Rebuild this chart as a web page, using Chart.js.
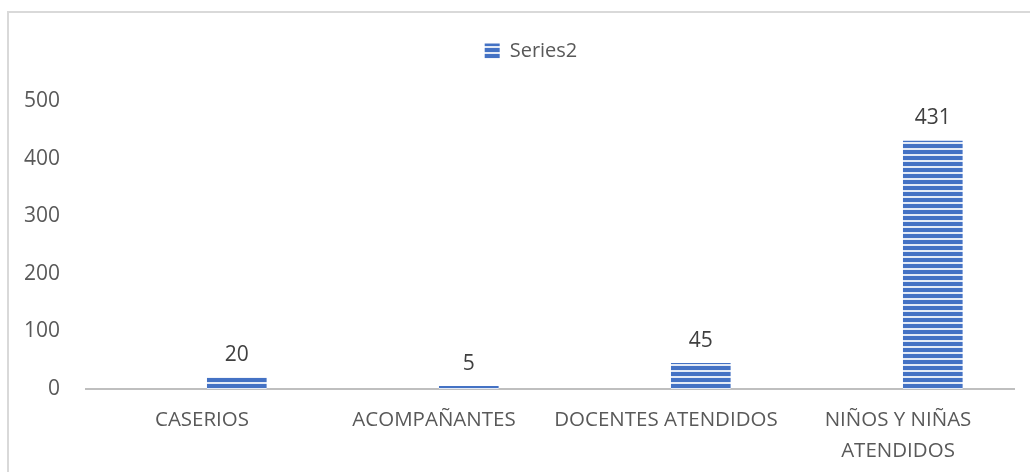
<!DOCTYPE html>
<html>
<head>
<meta charset="utf-8">
<script src="https://cdn.jsdelivr.net/npm/chart.js@4.4.1/dist/chart.umd.min.js"></script>
<style>
  html, body { margin: 0; padding: 0; background: #fff; overflow: hidden; }
  #wrap { position: relative; width: 1030px; height: 472px; }
  #frame { position: absolute; left: 7px; top: 11px; width: 1060px; height: 500px; border: 2px solid #d9d9d9; box-sizing: border-box; }
  canvas { position: absolute; left: 0; top: 0; }
</style>
</head>
<body>
<div id="wrap">
  <div id="frame"></div>
  <canvas id="chart" width="1030" height="472"></canvas>
</div>
<script>
const categories = ['CASERIOS', 'ACOMPAÑANTES', 'DOCENTES ATENDIDOS', ['NIÑOS Y NIÑAS', 'ATENDIDOS']];
const series1 = [null, null, null, null];
const series2 = [20, 5, 45, 431];
const yTicks = [0, 100, 200, 300, 400, 500];

// relleno rayado como en Excel
function stripes() {
    const c = document.createElement('canvas');
    c.width = 6; c.height = 6;
    const g = c.getContext('2d');
    g.fillStyle = '#4472C4';
    g.fillRect(0, 0, 6, 6);
    g.fillStyle = 'rgba(255,255,255,0.85)';
    g.fillRect(0, 4, 6, 2);
    return g.createPattern(c, 'repeat');
}

const valueLabels = {
    id: 'valueLabels',
    afterDatasetsDraw(chart) {
        const ctx = chart.ctx;
        const meta = chart.getDatasetMeta(1);
        ctx.save();
        ctx.font = '21px "Open Sans"';
        ctx.fillStyle = '#404040';
        ctx.textAlign = 'center';
        ctx.textBaseline = 'bottom';
        meta.data.forEach((bar, i) => {
            ctx.fillText(series2[i], bar.x, bar.y - 12);
        });
        ctx.restore();
    }
};

// leyenda: mas espacio debajo y un poco a la derecha
const legendSpace = {
    id: 'legendSpace',
    afterInit(chart) {
        const lg = chart.legend;
        const fit = lg.fit.bind(lg);
        const draw = lg.draw.bind(lg);
        lg.fit = function () { fit(); this.height = 66; };
        lg.draw = function () {
            chart.ctx.save();
            chart.ctx.translate(24, 0);
            draw();
            chart.ctx.restore();
        };
    }
};

const ctx = document.getElementById('chart');
new Chart(ctx, {
    type: 'bar',
    data: {
        labels: categories,
        datasets: [
            { label: 'Series1', data: series1, backgroundColor: '#ED7D31' },
            { label: 'Series2', data: series2, backgroundColor: stripes(), borderWidth: 0 }
        ]
    },
    options: {
        responsive: false,
        animation: false,
        categoryPercentage: 0.6,
        barPercentage: 0.857,
        layout: { padding: { top: 35, right: 16, bottom: 0, left: 0 } },
        plugins: {
            legend: {
                position: 'top',
                labels: {
                    filter: (item) => item.text === 'Series2',
                    boxWidth: 15,
                    boxHeight: 15,
                    padding: 6,
                    color: '#595959',
                    font: { family: 'Open Sans', size: 20 }
                }
            },
            tooltip: { enabled: false }
        },
        scales: {
            x: {
                grid: { display: false },
                border: { display: true, color: '#bfbfbf', width: 2 },
                ticks: {
                    color: '#595959',
                    padding: 8,
                    maxRotation: 0,
                    autoSkip: false,
                    font: { family: 'Open Sans', size: 20.5, lineHeight: 1.5 }
                },
                afterFit(scale) { scale.height = 83; }
            },
            y: {
                min: 0,
                max: 500,
                grid: { display: false },
                border: { display: false },
                afterBuildTicks(scale) { scale.ticks = yTicks.map(v => ({ value: v })); },
                ticks: {
                    color: '#595959',
                    padding: 18,
                    font: { family: 'Open Sans', size: 21 }
                },
                afterFit(scale) { scale.width = 86; }
            }
        }
    },
    plugins: [valueLabels, legendSpace]
});
</script>
</body>
</html>
